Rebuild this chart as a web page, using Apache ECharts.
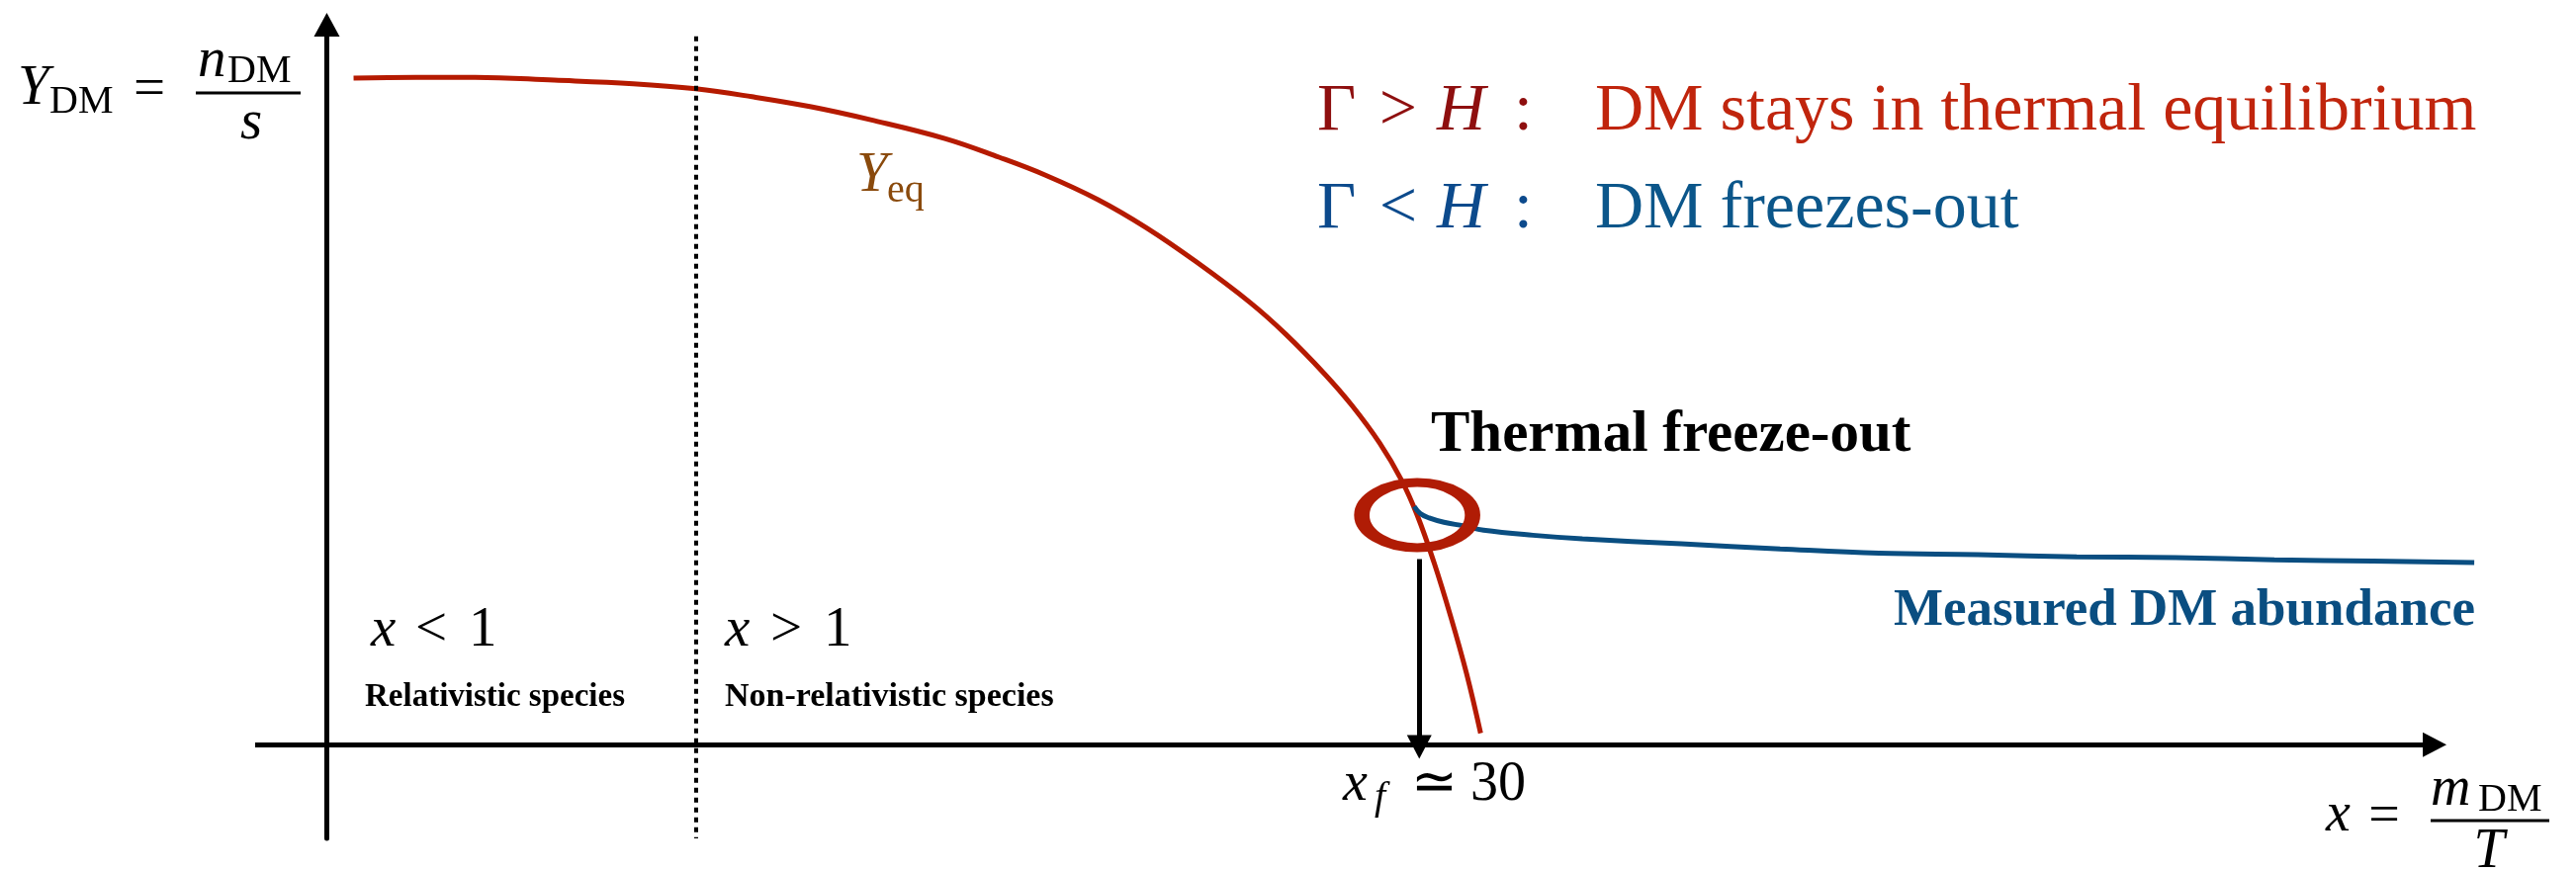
<!DOCTYPE html>
<html>
<head>
<meta charset="utf-8">
<script src="https://cdn.jsdelivr.net/npm/echarts@6/dist/echarts.min.js"></script>
<style>
  html, body { margin: 0; padding: 0; background: #fff; }
  #chart { width: 2605px; height: 882px; }
</style>
</head>
<body>
<div id="chart"></div>
<script>
// sketch units: x axis sits at y = 0, y axis at x = 0
// equilibrium abundance Y_eq
const yeqX = [1.27, 4.22, 7.04, 10.79, 14.54, 17.50, 20.17, 22.98, 25.80, 29.32, 31.89, 34.10, 36.59, 38.88, 41.28, 43.81, 45.50, 47.37, 48.64, 49.95, 50.98, 51.73, 52.53, 53.33, 54.08, 54.74]
const yeqY = [92.6, 92.7, 92.7, 92.3, 91.8, 91.1, 90.0, 88.6, 86.8, 84.2, 81.6, 79.1, 75.7, 71.8, 67.0, 61.4, 57.0, 51.4, 47.1, 41.9, 36.8, 31.9, 25.3, 17.7, 9.8, 1.6]

// relic abundance after freeze-out
const relicX = [51.59, 51.88, 52.30, 53.00, 53.94, 54.88, 57.22, 59.57, 64.26, 68.95, 73.64, 78.33, 83.02, 87.71, 92.40, 97.09, 101.88]
const relicY = [33.1, 32.1, 31.5, 30.9, 30.4, 29.8, 29.1, 28.6, 27.9, 27.2, 26.6, 26.4, 26.1, 26.0, 25.7, 25.5, 25.3]

// freeze-out point (circled), its arrow, the x = 1 boundary and the x axis
const freezeOut = [51.73, 31.9]
const xfArrow = [[51.83, 25.8], [51.83, -0.3]]
const boundary = [[17.5, 98.4], [17.5, -13]]
const xAxisLine = [[-3.4, 0], [100, 0]]

const regionLabels = ['Relativistic species', 'Non-relativistic species']
const conditionText = ['DM stays in thermal equilibrium', 'DM freezes-out']

const RED = '#b51a00'
const BLUE = '#0a4e81'
const SERIF = '"Liberation Serif", "Times New Roman", serif'

const txt = (s, x, base, size, o = {}) => ({
  type: 'text',
  x: x,
  y: base - 0.32 * size,
  silent: true,
  z: 10,
  style: {
    text: s,
    fontFamily: SERIF,
    fontSize: size,
    fontStyle: o.italic ? 'italic' : 'normal',
    fontWeight: o.bold ? 'bold' : 'normal',
    fill: o.color || '#000',
    align: o.align || 'left',
    textAlign: o.align || 'left',
    verticalAlign: 'middle',
    textVerticalAlign: 'middle'
  }
})

const bar = (x1, x2, y) => ({
  type: 'rect',
  silent: true,
  z: 10,
  shape: { x: x1, y: y - 1.5, width: x2 - x1, height: 3 },
  style: { fill: '#000' }
})

const graphics = [
  // Y_DM = n_DM / s
  txt('Y', 18, 108, 57, { italic: true }),
  txt('DM', 50, 116, 40),
  txt('=', 151, 110, 57, { align: 'center' }),
  txt('n', 200, 80, 57, { italic: true }),
  txt('DM', 230, 85, 40),
  bar(198, 304, 94),
  txt('s', 243, 143, 57, { italic: true }),

  // Y_eq
  txt('Y', 866, 196, 57, { italic: true, color: '#8a4a0c' }),
  txt('eq', 897, 206, 40, { color: '#8a4a0c' }),

  // conditions
  txt('\u0393', 1332, 135, 68, { color: '#8e0f0f' }),
  txt('>', 1414, 135, 68, { color: '#8e0f0f', align: 'center' }),
  txt('H', 1453, 135, 68, { italic: true, color: '#8e0f0f' }),
  txt(':', 1531, 135, 68, { color: '#8e0f0f' }),
  txt(conditionText[0], 1613, 135, 68, { color: '#c0250d' }),
  txt('\u0393', 1332, 234, 68, { color: '#0c4a8c' }),
  txt('<', 1414, 234, 68, { color: '#0c4a8c', align: 'center' }),
  txt('H', 1453, 234, 68, { italic: true, color: '#0c4a8c' }),
  txt(':', 1531, 234, 68, { color: '#0c4a8c' }),
  txt(conditionText[1], 1613, 234, 68, { color: '#0b568a' }),

  txt('Thermal freeze-out', 1447, 460, 59, { bold: true }),
  txt('Measured DM abundance', 2503, 635, 53, { bold: true, color: BLUE, align: 'right' }),

  // regions
  txt('x', 375, 656, 57, { italic: true }),
  txt('<', 436, 656, 57, { align: 'center' }),
  txt('1', 474, 656, 57),
  txt(regionLabels[0], 369, 716, 33, { bold: true }),
  txt('x', 733, 656, 57, { italic: true }),
  txt('>', 795, 656, 57, { align: 'center' }),
  txt('1', 833, 656, 57),
  txt(regionLabels[1], 733, 716, 34, { bold: true }),

  // x_f ~ 30
  txt('x', 1358, 812, 56, { italic: true }),
  txt('f', 1390, 820, 40, { italic: true }),
  txt('\u2243', 1450, 812, 56, { align: 'center' }),
  txt('30', 1487, 812, 56),

  // x = m_DM / T
  txt('x', 2352, 843, 56, { italic: true }),
  txt('=', 2411, 845, 56, { align: 'center' }),
  txt('m', 2458, 817, 56, { italic: true }),
  txt('DM', 2506, 822, 40),
  bar(2458, 2578, 830),
  txt('T', 2517, 880, 56, { italic: true, align: 'center' })
]

const chart = echarts.init(document.getElementById('chart'))

const option = {
  animation: false,
  backgroundColor: '#fff',
  grid: { left: 258, right: 95, top: 25, bottom: 34, outerBoundsMode: 'none' },
  xAxis: {
    type: 'value',
    min: -3.4,
    max: 102.25,
    axisLine: { show: false },
    axisTick: { show: false },
    axisLabel: { show: false },
    splitLine: { show: false }
  },
  yAxis: {
    type: 'value',
    min: -13,
    max: 100,
    axisLine: {
      onZero: true,
      symbol: ['none', 'triangle'],
      symbolSize: [26, 24],
      lineStyle: { color: '#000', width: 5 }
    },
    axisTick: { show: false },
    axisLabel: { show: false },
    splitLine: { show: false }
  },
  series: [
    {
      name: 'Y_eq',
      type: 'line',
      data: yeqX.map((x, i) => [x, yeqY[i]]),
      smooth: 0.4,
      showSymbol: false,
      clip: false,
      silent: true,
      z: 2,
      lineStyle: { color: RED, width: 5 },
      markLine: {
        silent: true,
        symbol: ['none', 'none'],
        label: { show: false },
        lineStyle: { color: '#000', width: 4, type: [5, 5] },
        data: [[{ coord: boundary[0] }, { coord: boundary[1] }]]
      }
    },
    {
      name: 'relic',
      type: 'line',
      data: relicX.map((x, i) => [x, relicY[i]]),
      smooth: 0.4,
      showSymbol: false,
      clip: false,
      silent: true,
      z: 3,
      lineStyle: { color: BLUE, width: 5 },
      markLine: {
        silent: true,
        symbol: ['none', 'triangle'],
        symbolSize: [25, 24],
        label: { show: false },
        lineStyle: { color: '#000', width: 5, type: 'solid' },
        data: [
          [{ coord: xfArrow[0] }, { coord: xfArrow[1] }],
          [{ coord: xAxisLine[0] }, { coord: xAxisLine[1] }]
        ]
      }
    },
    {
      name: 'freeze-out',
      type: 'scatter',
      data: [freezeOut],
      symbol: 'circle',
      symbolSize: [112, 66],
      clip: false,
      silent: true,
      z: 4,
      itemStyle: { color: 'rgba(0,0,0,0)', borderColor: '#b01c05', borderWidth: 12, opacity: 1 }
    }
  ],
  graphic: { elements: graphics }
}

chart.setOption(option)
</script>
</body>
</html>
